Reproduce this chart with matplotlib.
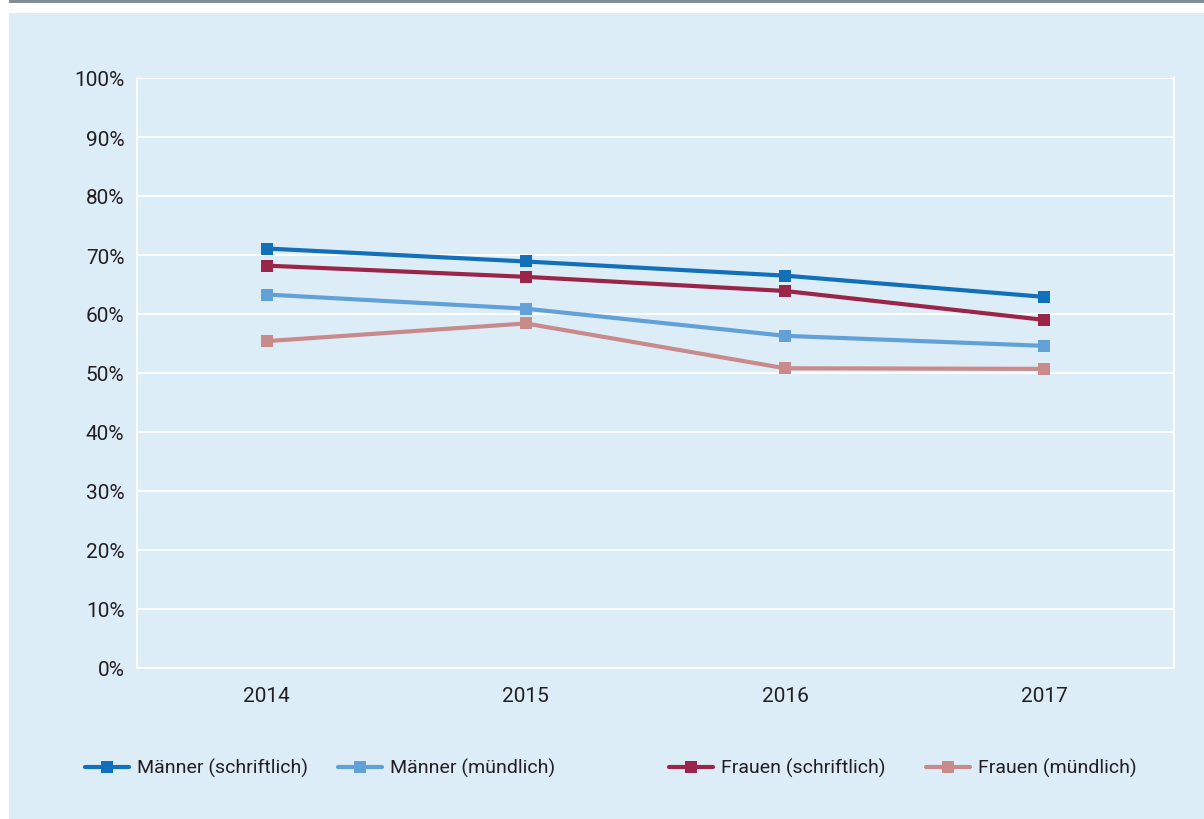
import matplotlib.pyplot as plt
from matplotlib.patches import Rectangle
from matplotlib.lines import Line2D
from matplotlib.ticker import PercentFormatter

plt.rcParams['font.family'] = ['Roboto', 'DejaVu Sans']

years = ['2014', '2015', '2016', '2017']
maenner_schriftlich = [71.1, 68.9, 66.5, 62.9]
maenner_muendlich = [63.3, 60.9, 56.3, 54.6]
frauen_schriftlich = [68.2, 66.3, 63.9, 59.0]
frauen_muendlich = [55.4, 58.4, 50.8, 50.7]

series = [
    ('Männer (schriftlich)', maenner_schriftlich, '#1170b9'),
    ('Männer (mündlich)', maenner_muendlich, '#62a1d8'),
    ('Frauen (schriftlich)', frauen_schriftlich, '#9b2548'),
    ('Frauen (mündlich)', frauen_muendlich, '#c98a8c'),
]
# draw order: light ones first so the dark lines sit on top
draw_order = [3, 1, 2, 0]

bg = '#ddedf7'
txt = '#231f20'

fig = plt.figure(figsize=(12.04, 8.2), dpi=100)
fig.patch.set_facecolor('white')
fig.add_artist(Rectangle((9 / 1204, 0), 1, 1 - 14 / 820, transform=fig.transFigure,
                         facecolor=bg, edgecolor='none', zorder=0))
fig.add_artist(Rectangle((9 / 1204, 1 - 4 / 820), 1, 4 / 820, transform=fig.transFigure,
                         facecolor='#808d96', edgecolor='none', zorder=0))

ax = fig.add_axes([137 / 1204, 1 - 669 / 820, (1174 - 137) / 1204, (669 - 79) / 820])
ax.set_facecolor(bg)
x = list(range(len(years)))
for i in draw_order:
    label, vals, col = series[i]
    ax.plot(x, vals, color=col, lw=3.0, marker='s', ms=8.6, mew=0, zorder=3)

ax.set_xlim(-0.5, 3.5)
ax.set_ylim(0, 100)
ax.set_yticks(range(0, 101, 10))
ax.yaxis.set_major_formatter(PercentFormatter(decimals=0))
ax.set_xticks(x)
ax.set_xticklabels(years)
ax.grid(axis='y', color='white', lw=1.3)
ax.set_axisbelow(True)
for s in ax.spines.values():
    s.set_color('white')
    s.set_linewidth(1.3)
ax.spines['top'].set_visible(False)
ax.tick_params(length=0, labelsize=15, colors=txt)
ax.tick_params(axis='y', pad=9)
ax.tick_params(axis='x', pad=13)

# legend row along the bottom
leg_x = [85, 338, 669, 926]
for (label, vals, col), lx in zip(series, leg_x):
    y = 1 - 768 / 820
    x0, x1 = lx / 1204, (lx + 44) / 1204
    fig.add_artist(Line2D([x0, x1], [y, y], transform=fig.transFigure, color=col,
                          lw=3.0, solid_capstyle='round'))
    fig.add_artist(Line2D([(x0 + x1) / 2], [y], transform=fig.transFigure, color=col,
                          marker='s', ms=8.6, mew=0))
    fig.text((lx + 52) / 1204, y, label, fontsize=14, color=txt, va='center', ha='left')

fig.savefig('out.png', dpi=100, facecolor=fig.get_facecolor())
